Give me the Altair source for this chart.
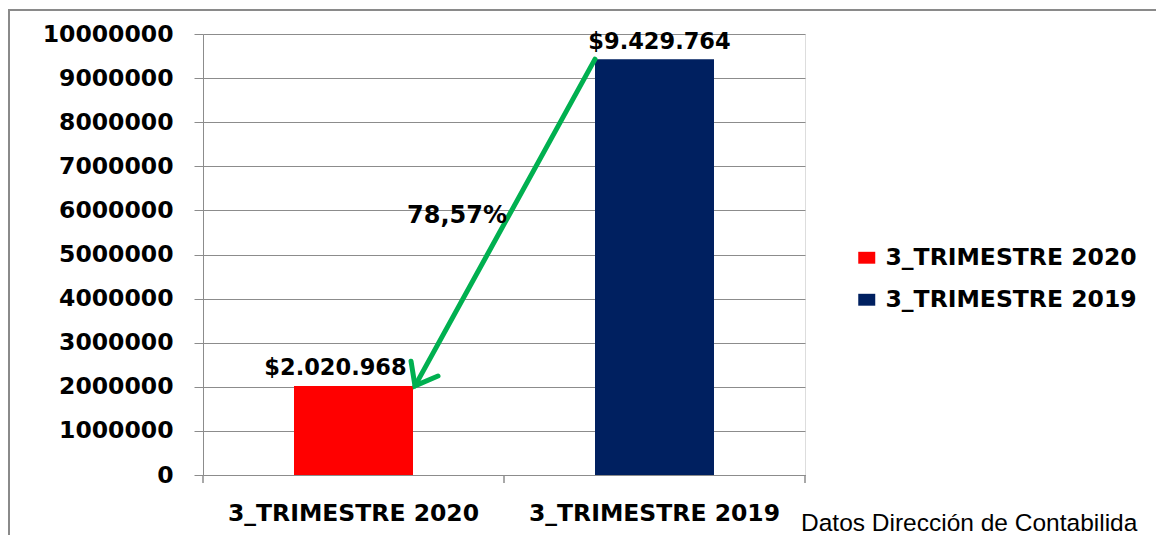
import math
import altair as alt
import pandas as pd

# ---- data ----
categories = ["3_TRIMESTRE 2020", "3_TRIMESTRE 2019"]
values = [2020968, 9429764]
bar_colors = ["#FF0000", "#002060"]
y_ticks = [0, 1000000, 2000000, 3000000, 4000000, 5000000,
           6000000, 7000000, 8000000, 9000000, 10000000]
footer_text = "Datos Dirección de Contabilida"

labels = ["$" + f"{v:,}".replace(",", ".") for v in values]
pct = (1 - values[0] / values[1]) * 100
pct_label = f"{pct:.2f}".replace(".", ",") + "%"

# ---- layout ----
W, H = 602, 441
PAD_L, PAD_T = 195, 26
TOTAL_W, TOTAL_H = 1148, 527
BAR = 119
BAND = W / len(categories)
GRAY = "#8c8c8c"
FONT = "DejaVu Sans"

df = pd.DataFrame({"cat": categories, "value": values, "label": labels})

x_axis = alt.Axis(title=None, ticks=False, tickSize=0,
                  labelFont=FONT, labelFontWeight="bold",
                  labelFontSize=23.5, labelColor="#000000",
                  labelPadding=26, domainColor=GRAY, labelLimit=1000,
                  domainWidth=1, labelAngle=0, grid=False)
x_scale = alt.Scale(paddingInner=0, paddingOuter=0)
y_axis = alt.Axis(title=None, values=y_ticks, format="d",
                  labelFont=FONT, labelFontWeight="bold",
                  labelFontSize=23.5, labelColor="#000000", labelLimit=1000,
                  labelPadding=21, tickSize=9, tickColor=GRAY,
                  domainColor=GRAY, grid=True, gridColor=GRAY, gridWidth=1,
                  labelFlush=False, labelOverlap=False)
y_scale = alt.Scale(domain=[0, 10000000], nice=False, zero=True)


def xcat(**kw):
    return alt.X("cat:N", sort=categories, scale=x_scale, axis=x_axis, **kw)


def yq(field):
    return alt.Y(field, type="quantitative", scale=y_scale, axis=y_axis)


frame = alt.Chart(pd.DataFrame({"a": [0]})).mark_rect(
    fillOpacity=0, stroke="#8a8a8a", strokeWidth=2
).encode(x=alt.value(-194), x2=alt.value(W + 500),
         y=alt.value(-24), y2=alt.value(H + 300))

bars = alt.Chart(df).mark_bar(size=BAR).encode(
    x=xcat(),
    y=yq("value"),
    color=alt.Color("cat:N", sort=categories,
                    scale=alt.Scale(domain=categories, range=bar_colors),
                    legend=alt.Legend(title=None, orient="none",
                                      legendX=652, legendY=212,
                                      labelFont=FONT, labelFontWeight="bold",
                                      labelFontSize=23.5, labelColor="#000000",
                                      labelLimit=1000,
                                      symbolType="M-1,-0.7L1,-0.7L1,0.7L-1,0.7Z",
                                      symbolSize=289, symbolStrokeWidth=0,
                                      labelOffset=7, rowPadding=17,
                                      padding=0)),
)

# boundary ticks on the category axis
ticks_start = alt.Chart(df).mark_rule(color=GRAY, strokeWidth=1.5).encode(
    x=xcat(bandPosition=0),
    y=alt.value(H), y2=alt.value(H + 8))
tick_end = alt.Chart(pd.DataFrame({"a": [0]})).mark_rule(
    color=GRAY, strokeWidth=1.5).encode(
    x=alt.value(W), y=alt.value(H), y2=alt.value(H + 8))

text_2020 = alt.Chart(df[df.cat == categories[0]]).mark_text(
    font=FONT, fontWeight="bold", fontSize=22.5, color="#000000",
    baseline="alphabetic", dy=-11, dx=-18
).encode(x=xcat(), y=yq("value"), text="label:N")
text_2019 = alt.Chart(df[df.cat == categories[1]]).mark_text(
    font=FONT, fontWeight="bold", fontSize=22.5, color="#000000",
    baseline="alphabetic", dy=-10, dx=5
).encode(x=xcat(), y=yq("value"), text="label:N")

# arrow from top-left of 2019 bar to top-right of 2020 bar
x_start = BAND * 1.5 - BAR / 2
x_end = BAND * 0.5 + BAR / 2 + 2
y_start_px = H * (1 - values[1] / 10000000)
y_end_px = H * (1 - values[0] / 10000000)
angle = math.degrees(math.atan2(x_start - x_end, y_end_px - y_start_px))

arrow_df = pd.DataFrame({"value": [values[1]], "value2": [values[0]],
                         "ymid": [(values[0] + values[1]) / 2],
                         "pct": [pct_label]})
GREEN = "#00B050"
arrow_line = alt.Chart(arrow_df).mark_rule(
    color=GREEN, strokeWidth=5, strokeCap="round"
).encode(x=alt.value(x_start), x2=alt.value(x_end),
         y=yq("value"), y2="value2:Q")
arrow_head = alt.Chart(arrow_df).mark_point(
    shape="M-0.616,-0.788L0,0L0.616,-0.788", size=2500, filled=False,
    stroke=GREEN, strokeWidth=5, strokeCap="round", strokeJoin="miter",
    angle=angle, opacity=1
).encode(x=alt.value(x_end), y=yq("value2"))

pct_text = alt.Chart(arrow_df).mark_text(
    font=FONT, fontWeight="bold", fontSize=24, color="#000000",
    align="right", baseline="alphabetic"
).encode(x=alt.value((x_start + x_end) / 2 + 2),
         y=yq("ymid"), text="pct:N")

footer = alt.Chart(pd.DataFrame({"t": [footer_text]})).mark_text(
    font="Liberation Sans", fontSize=24.5, color="#000000",
    align="left", baseline="alphabetic"
).encode(x=alt.value(598), y=alt.value(497), text="t:N")

chart = alt.layer(
    frame, bars, ticks_start, tick_end, arrow_line, arrow_head,
    text_2020, text_2019, pct_text, footer
).properties(
    width=W, height=H,
    autosize=alt.AutoSizeParams(type="none"),
    padding={"left": PAD_L, "top": PAD_T,
             "right": TOTAL_W - PAD_L - W, "bottom": TOTAL_H - PAD_T - H},
).configure_view(strokeWidth=0).configure(background="#ffffff")

chart.save("out.html", embed_options={"renderer": "svg", "actions": False})
